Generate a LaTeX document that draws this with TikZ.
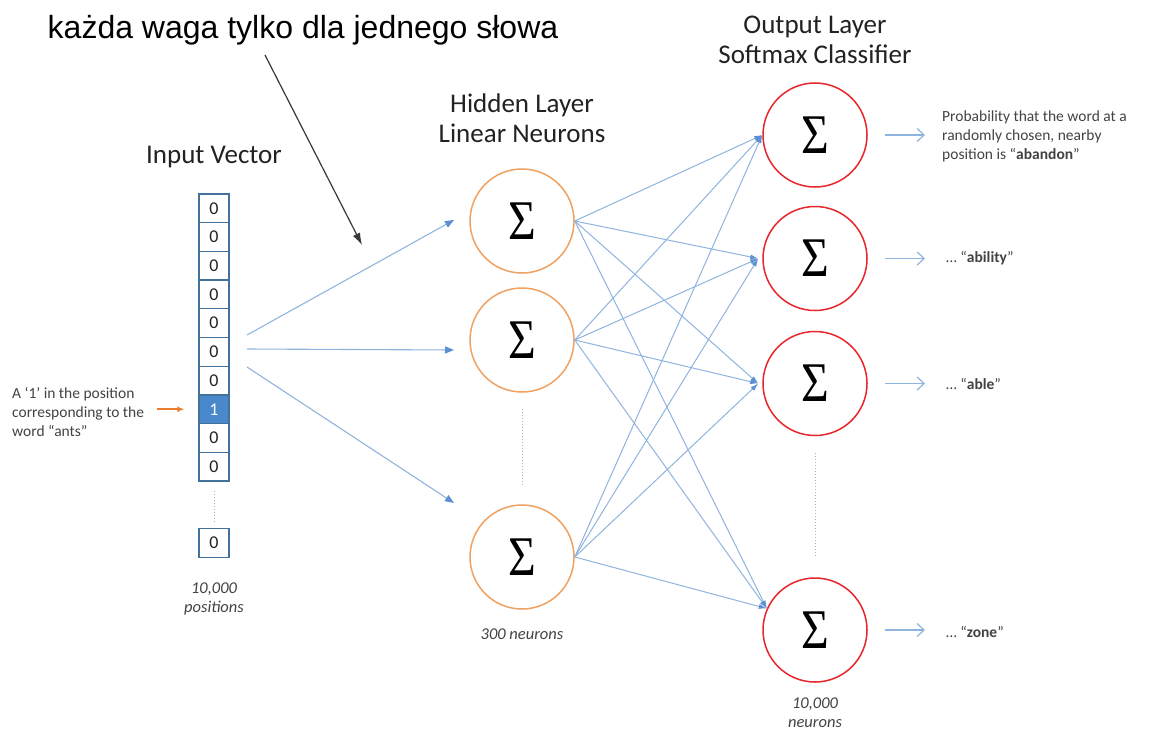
\documentclass[tikz,border=0pt]{standalone}
\usepackage{graphicx}
\usepackage{fontspec}
\setmainfont{Carlito}
\newfontfamily\titlefont{Liberation Sans}
\newfontfamily\sigmafont{Liberation Serif}
\usetikzlibrary{arrows.meta,calc}

\definecolor{cellblue}{HTML}{41719C}
\definecolor{onefill}{HTML}{4A88CC}
\definecolor{wire}{HTML}{8FB4DE}
\definecolor{wirehead}{HTML}{5B8FD0}
\definecolor{hidorange}{HTML}{F0A262}
\definecolor{outred}{HTML}{E8262B}
\definecolor{pointer}{HTML}{ED7D31}
\definecolor{ink}{HTML}{222222}
\definecolor{dotline}{HTML}{9DB9D8}

% summation sign drawn inside every neuron
\newcommand\sumglyph{\scalebox{0.85}[1]{\sigmafont\fontsize{56}{56}\selectfont Σ}}

\begin{document}
\begin{tikzpicture}[x=1pt,y=-1pt,
  heading/.style={font=\fontsize{27}{30}\selectfont, text=ink, align=center, inner sep=0},
  small/.style={font=\fontsize{15.5}{19}\selectfont, text=ink!85, align=left, inner sep=0},
  note/.style={font=\fontsize{16.5}{19}\selectfont\itshape, text=ink!85, align=center, inner sep=0},
  cell/.style={draw=cellblue, line width=1.3pt, minimum width=30pt, minimum height=28.7pt,
               inner sep=0, text=ink, font=\fontsize{18}{18}\selectfont},
  hidden/.style={circle, draw=hidorange, line width=1.5pt, minimum size=104pt, inner sep=0, text=black},
  output/.style={circle, draw=outred, line width=1.5pt, minimum size=104pt, inner sep=0, text=black},
  feed/.style={draw=wire, line width=1.1pt, -{Triangle[length=9pt,width=7pt,color=wirehead]}},
  link/.style={draw=wire, line width=1pt, -{Latex[length=8pt,width=5pt,color=wirehead]}},
  result/.style={draw=wire, line width=1.2pt, -{Straight Barb[length=7pt,width=13pt]}},
  gap/.style={draw=dotline, line width=1pt, dotted},
  remark/.style={draw=ink!90, line width=1.2pt, -{Latex[length=12pt,width=8pt]}},
  marker/.style={draw=pointer, line width=1.6pt, -{Latex[length=7pt,width=6pt]}}
]
\useasboundingbox (0,0) rectangle (1150,731);
\fill[white] (0,0) rectangle (1150,731);

% remark above the picture
\node[font=\titlefont\fontsize{32}{32}\selectfont, text=black, anchor=base, inner sep=0]
  (title) at (303,38) {każda waga tylko dla jednego słowa};

% headings
\node[heading, anchor=base] (inhead) at (214,163) {Input Vector};
\node[heading] (hidhead) at (522,118) {Hidden Layer\\Linear Neurons};
\node[heading] (outhead) at (815,40) {Output Layer\\Softmax Classifier};

% one-hot input vector
\foreach \i in {1,...,7,9,10}
  \node[cell] (c\i) at (214,{208.35+(\i-1)*28.7}) {0};
\node[cell, fill=onefill, text=white] (c8) at (214,{208.35+7*28.7}) {1};
\node[cell] (c11) at (214,543) {0};
\draw[gap] ([yshift=-9pt]c10.south) -- ([yshift=5pt]c11.north);
\node[note] (incount) at (214,599) {10,000\\positions};

% note on the active position
\node[small, anchor=west] (lbl) at (12,412) {A ‘1’ in the position\\corresponding to the\\word “ants”};
\draw[marker, shorten <=13pt, shorten >=14pt] (lbl.east |- c8.west) -- (c8.west);

% hidden layer
\node[hidden] (h1) at (522,221) {\sumglyph};
\node[hidden] (h2) at (522,340) {\sumglyph};
\node[hidden] (h3) at (522,557) {\sumglyph};
\draw[gap] ([yshift=-16pt]h2.south) -- ([yshift=18pt]h3.north);
\node[note, anchor=base] (hidcount) at (522,639) {300 neurons};

% output layer
\node[output] (o1) at (815,135) {\sumglyph};
\node[output] (o2) at (815,258.5) {\sumglyph};
\node[output] (o3) at (815,383.5) {\sumglyph};
\node[output] (o4) at (815,630) {\sumglyph};
\draw[gap] ([yshift=-17pt]o3.south) -- ([yshift=21pt]o4.north);
\node[note] (outcount) at (815,712.5) {10,000\\neurons};

% input vector to hidden layer
\coordinate (s1) at (247,335);
\coordinate (s2) at (247,349);
\coordinate (s3) at (247,367);
\coordinate (e1) at (454,220);
\coordinate (e2) at (454,350);
\coordinate (e3) at (454,503);
\draw[feed] (s1) -- (e1);
\draw[feed] (s2) -- (e2);
\draw[feed] (s3) -- (e3);

% hidden layer to output layer, fully connected
\coordinate (t1) at (o1.west);
\coordinate (t2) at ([xshift=-4pt]o2.west);
\coordinate (t3) at ([xshift=-4pt]o3.west);
\coordinate (t4) at (o4.156);
\foreach \h in {h1,h2,h3}
  \foreach \t in {t1,t2,t3,t4}
    \draw[link] (\h.east) -- (\t);

% output probabilities
\node[small, anchor=west] (p1) at (942,136)
  {Probability that the word at a\\randomly chosen, nearby\\position is “\textbf{abandon}”};
\node[small, anchor=west] (p2) at (946,258.5) {… “\textbf{ability}”};
\node[small, anchor=west] (p3) at (946,383.5) {… “\textbf{able}”};
\node[small, anchor=west] (p4) at (946,632) {… “\textbf{zone}”};
\draw[result, shorten <=17pt, shorten >=17pt] (o1.east) -- (p1.west |- o1.east);
\draw[result, shorten <=17pt, shorten >=21pt] (o2.east) -- (p2.west |- o2.east);
\draw[result, shorten <=17pt, shorten >=21pt] (o3.east) -- (p3.west |- o3.east);
\draw[result, shorten <=17pt, shorten >=21pt] (o4.east) -- (p4.west |- o4.east);

% pointer from the remark to the input weights
\coordinate (a0) at (265,55);
\coordinate (a1) at (362,245);
\draw[remark] (a0) -- (a1);
\end{tikzpicture}
\end{document}
